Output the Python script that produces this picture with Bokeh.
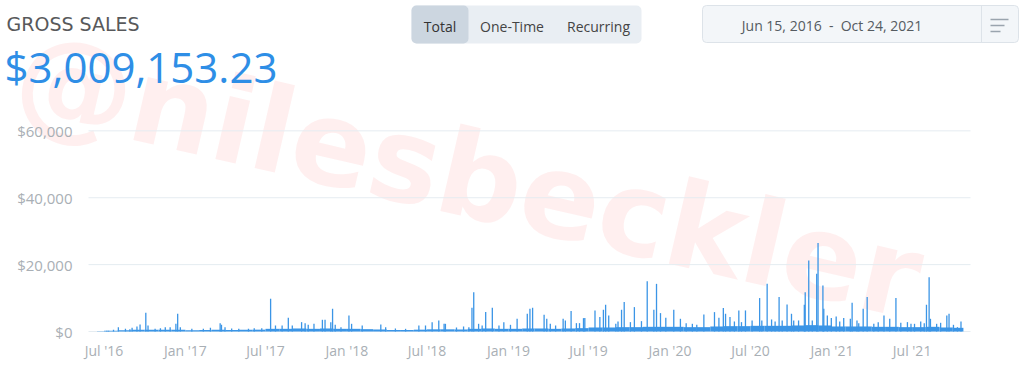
import datetime as dt
from bokeh.plotting import figure
from bokeh.models import Range1d, Label, ColumnDataSource
from bokeh.embed import file_html
from bokeh.resources import INLINE
from bokeh.core.properties import value

# ---------------- texts ----------------
TITLE = "GROSS SALES"
TOTAL = "$3,009,153.23"
TABS = ["Total", "One-Time", "Recurring"]
DATE_RANGE = "Jun 15, 2016 \u00a0-\u00a0 Oct 24, 2021"
WATERMARK = "@nilesbeckler"

# ---------------- data ----------------
START = dt.datetime(2016, 6, 15)
END = dt.datetime(2021, 10, 24)

# typical daily sales level (dense band) per month, Jun 2016 .. Oct 2021
base_level = [
    100, 250, 400, 500, 500, 500, 500,                                   # 2016 Jun-Dec
    400, 450, 500, 450, 500, 550, 800, 800, 900, 800, 900, 800,          # 2017
    800, 700, 600, 450, 450, 550, 650, 650, 600, 800, 900, 800,          # 2018
    800, 900, 900, 800, 900, 1000, 1200, 1200, 1300, 1300, 1400, 1400,   # 2019
    1400, 1300, 1300, 1500, 1600, 1600, 1700, 1700, 1700, 1800, 1900, 1800,  # 2020
    1500, 1500, 1500, 1400, 1400, 1300, 1300, 1400, 1200, 1100,          # 2021 Jan-Oct
]

# individual daily spikes
spike_dates = [
    "2016-07-07", "2016-07-11", "2016-07-22", "2016-08-02", "2016-08-18", "2016-08-28",
    "2016-09-02", "2016-09-13", "2016-09-20", "2016-10-03", "2016-10-08", "2016-10-24",
    "2016-11-05", "2016-11-16", "2016-11-27", "2016-12-10", "2016-12-14", "2016-12-20",
    "2017-01-15", "2017-02-10", "2017-02-26", "2017-03-20", "2017-03-23", "2017-03-31",
    "2017-04-15", "2017-05-01", "2017-05-23", "2017-06-05", "2017-06-22", "2017-07-12",
    "2017-07-23", "2017-08-07", "2017-08-21", "2017-08-30", "2017-09-20", "2017-09-28",
    "2017-10-05", "2017-10-18", "2017-11-06", "2017-11-12", "2017-11-25", "2017-11-29",
    "2017-12-05", "2017-12-18",
    "2018-01-05", "2018-01-11", "2018-02-04", "2018-03-18", "2018-03-29", "2018-04-20",
    "2018-05-13", "2018-06-12", "2018-06-27", "2018-07-12", "2018-07-27", "2018-08-08",
    "2018-08-11", "2018-09-05", "2018-09-21", "2018-10-03", "2018-10-10", "2018-10-14",
    "2018-10-25", "2018-11-02", "2018-11-10", "2018-11-25", "2018-12-10", "2018-12-21",
    "2019-01-05", "2019-01-20", "2019-02-12", "2019-02-18", "2019-02-24", "2019-03-22",
    "2019-03-28", "2019-04-05", "2019-04-17", "2019-05-04", "2019-05-09", "2019-05-22",
    "2019-06-03", "2019-06-10", "2019-06-19", "2019-06-22", "2019-07-15", "2019-07-26",
    "2019-08-03", "2019-08-08", "2019-08-15", "2019-08-31", "2019-09-05", "2019-09-13",
    "2019-09-19", "2019-10-03", "2019-10-12", "2019-10-28", "2019-11-10", "2019-11-25",
    "2019-12-01", "2019-12-10", "2019-12-22",
    "2020-01-09", "2020-01-24", "2020-02-06", "2020-02-20", "2020-03-01", "2020-03-17",
    "2020-04-10", "2020-04-20", "2020-04-30", "2020-05-05", "2020-05-15", "2020-05-25",
    "2020-06-04", "2020-06-10", "2020-06-19", "2020-07-04", "2020-07-21", "2020-07-26",
    "2020-08-07", "2020-08-17", "2020-08-25", "2020-09-03", "2020-09-10", "2020-09-21",
    "2020-10-01", "2020-10-06", "2020-10-17", "2020-10-30", "2020-11-01", "2020-11-09",
    "2020-11-17", "2020-11-27", "2020-11-30", "2020-12-11", "2020-12-13", "2020-12-21",
    "2020-12-30",
    "2021-01-10", "2021-01-18", "2021-01-27", "2021-02-11", "2021-02-15", "2021-02-26",
    "2021-03-02", "2021-03-12", "2021-03-21", "2021-04-05", "2021-04-15", "2021-04-28",
    "2021-05-11", "2021-05-25", "2021-06-05", "2021-06-20", "2021-06-28", "2021-07-06",
    "2021-07-20", "2021-07-28", "2021-08-02", "2021-08-08", "2021-08-11", "2021-08-25",
    "2021-09-03", "2021-09-17", "2021-09-22", "2021-10-02", "2021-10-11", "2021-10-19",
]
spike_values = [
    200, 250, 500, 1300, 800, 700,
    1100, 1500, 2100, 5600, 1800, 800,
    1000, 1300, 1300, 2300, 5300, 1300,
    800, 800, 1100, 2500, 2000, 1300,
    900, 800, 800, 1000, 1000, 9800,
    1800, 1800, 4100, 1800, 2800, 2500,
    2000, 2300, 3500, 3500, 2800, 6800,
    2000, 1300,
    4800, 2300, 1800, 2100, 1300, 900,
    800, 1800, 1800, 2800, 3300, 2300,
    2300, 1200, 1500, 1300, 7100, 11750,
    2300, 1800, 5800, 7100, 1800, 2800,
    2000, 3800, 5300, 6800, 7100, 5000,
    3800, 2300, 1800, 3800, 3300, 6100,
    2500, 2500, 4000, 4000, 6300, 4300,
    6500, 8000, 4800, 2300, 3000, 6500,
    8800, 2800, 7300, 3100, 15000, 6500,
    14250, 5500, 4100,
    6500, 3800, 2500, 2300, 2000, 5100,
    5800, 4100, 7000, 5300, 4300, 3000,
    6300, 2800, 6300, 3300, 10000, 3300,
    14250, 3600, 3000, 10300, 3300, 8100,
    5300, 3300, 3300, 8000, 11750, 21200,
    3300, 17250, 26500, 13750, 6800, 4800,
    4000,
    4500, 3000, 4000, 3800, 8600, 3300,
    2500, 6800, 10300, 2300, 2800, 4800,
    3800, 10000, 2600, 2800, 2300, 2300,
    3000, 2500, 8000, 16250, 3800, 2300,
    2600, 4800, 5300, 2000, 1300, 3000,
]

y_ticks = [0, 20000, 40000, 60000]
x_tick_dates = [dt.datetime(2016, 7, 1), dt.datetime(2017, 1, 1), dt.datetime(2017, 7, 1),
                dt.datetime(2018, 1, 1), dt.datetime(2018, 7, 1), dt.datetime(2019, 1, 1),
                dt.datetime(2019, 7, 1), dt.datetime(2020, 1, 1), dt.datetime(2020, 7, 1),
                dt.datetime(2021, 1, 1), dt.datetime(2021, 7, 1)]

# ---------------- layout constants (page pixels) ----------------
W, H = 1024, 373
FL, FR, FT, FB = 88, 970, 124, 331          # chart plotting area
X0, X1 = dt.datetime(2016, 5, 27), dt.datetime(2021, 11, 10)   # visible date span
YMAX = 61900                                 # value at top of plotting area

t_per_px = (X1 - X0) / (FR - FL)
v_per_px = YMAX / (FB - FT)
t_range = Range1d(X0 - t_per_px * FL, X1 + t_per_px * (W - FR))
v_range = Range1d(-(H - FB) * v_per_px, YMAX + FT * v_per_px)

# ---------------- derived sources ----------------
month_starts = []
y, m = 2016, 6
while (y, m) <= (2021, 10):
    month_starts.append(dt.datetime(y, m, 1))
    m += 1
    if m > 12:
        m, y = 1, y + 1
lefts = [max(d, START) for d in month_starts]
rights = [min(d, END + dt.timedelta(days=1)) for d in month_starts[1:]] + [END + dt.timedelta(days=1)]
base_src = ColumnDataSource(dict(left=lefts, right=rights, top=base_level))
spk = [dt.datetime.strptime(s, "%Y-%m-%d") + dt.timedelta(hours=12) for s in spike_dates]
spike_src = ColumnDataSource(dict(x=spk, y=spike_values))
ytick_src = ColumnDataSource(dict(y=y_ticks, label=[f"${v:,}" for v in y_ticks]))
xtick_src = ColumnDataSource(dict(x=x_tick_dates, label=[d.strftime("%b '%y") for d in x_tick_dates]))

BLUE = "#3b95e6"
LABEL_GRAY = "#a9afb5"

p = figure(width=W, height=H, x_range=Range1d(0, W), y_range=Range1d(H, 0),
           min_border=0, toolbar_location=None, output_backend="svg",
           x_axis_location=None, y_axis_location=None, outline_line_color=None)
p.grid.visible = False
p.background_fill_color = "white"
p.border_fill_color = "white"
p.extra_x_ranges = {"t": t_range}
p.extra_y_ranges = {"v": v_range}

# watermark
p.add_layout(Label(x=2, y=H - 138, x_units="screen", y_units="screen", text=WATERMARK,
                   angle=-0.227, angle_units="rad", text_font="DejaVu Sans",
                   text_font_style="bold", text_font_size="118px", text_color="#ff4d4d",
                   text_alpha=0.09, level="underlay"))

# ---------------- header ----------------
p.text(x=[6], y=[23], text=[TITLE], text_font=value("DejaVu Sans"), text_font_size="19px",
       text_color="#58595b", text_baseline="alphabetic", text_align="left")
p.text(x=[4], y=[66], text=[TOTAL], text_font=value("Open Sans"), text_font_size="42px",
       text_color="#2e8ee6", text_baseline="alphabetic", text_align="left")

p.quad(left=[411], right=[641], top=[5], bottom=[43], fill_color="#e9eef3",
       line_color=None, border_radius=5)
p.quad(left=[411], right=[468], top=[5], bottom=[43], fill_color="#ccd6e0",
       line_color=None, border_radius=5)
p.text(x=[439.5, 511.5, 598], y=[25.5, 25.5, 25.5], text=TABS, text_font=value("Open Sans"),
       text_font_size="14px", text_color=["#333333", "#444444", "#444444"],
       text_baseline="alphabetic", text_align="center")

p.quad(left=[702], right=[1018], top=[5], bottom=[42], fill_color="#f3f6f9",
       line_color="#dde3e9", line_width=1, border_radius=4)
p.text(x=[831.5], y=[25], text=[DATE_RANGE], text_font=value("Open Sans"),
       text_font_size="14px", text_color="#555b61", text_baseline="alphabetic",
       text_align="center")
p.segment(x0=[981], y0=[5], x1=[981], y1=[42], line_color="#dde3e9", line_width=1)
p.segment(x0=[990, 990, 990], y0=[19, 25, 31], x1=[1008, 1004, 1000], y1=[19, 25, 31],
          line_color="#9aa4ae", line_width=1.5)

# ---------------- chart ----------------
p.segment(x0=FL, x1=FR, y0="y", y1="y", source=ytick_src, y_range_name="v",
          line_color="#e5ecf1", line_width=1)
p.text(x=72, y="y", text="label", source=ytick_src, y_range_name="v",
       text_font=value("Open Sans"), text_font_size="15px", text_color=LABEL_GRAY,
       text_align="right", text_baseline="alphabetic")
p.text(x="x", y=350, text="label", source=xtick_src, x_range_name="t",
       text_font=value("Open Sans"), text_font_size="14px", text_color=LABEL_GRAY,
       text_align="center", text_baseline="alphabetic")

p.quad(left="left", right="right", top="top", bottom=0, source=base_src,
       x_range_name="t", y_range_name="v", fill_color=BLUE, line_color=None)
p.segment(x0="x", y0=0, x1="x", y1="y", source=spike_src, x_range_name="t",
          y_range_name="v", line_color=BLUE, line_width=1.3)

open("out.html", "w").write(file_html(p, INLINE))
